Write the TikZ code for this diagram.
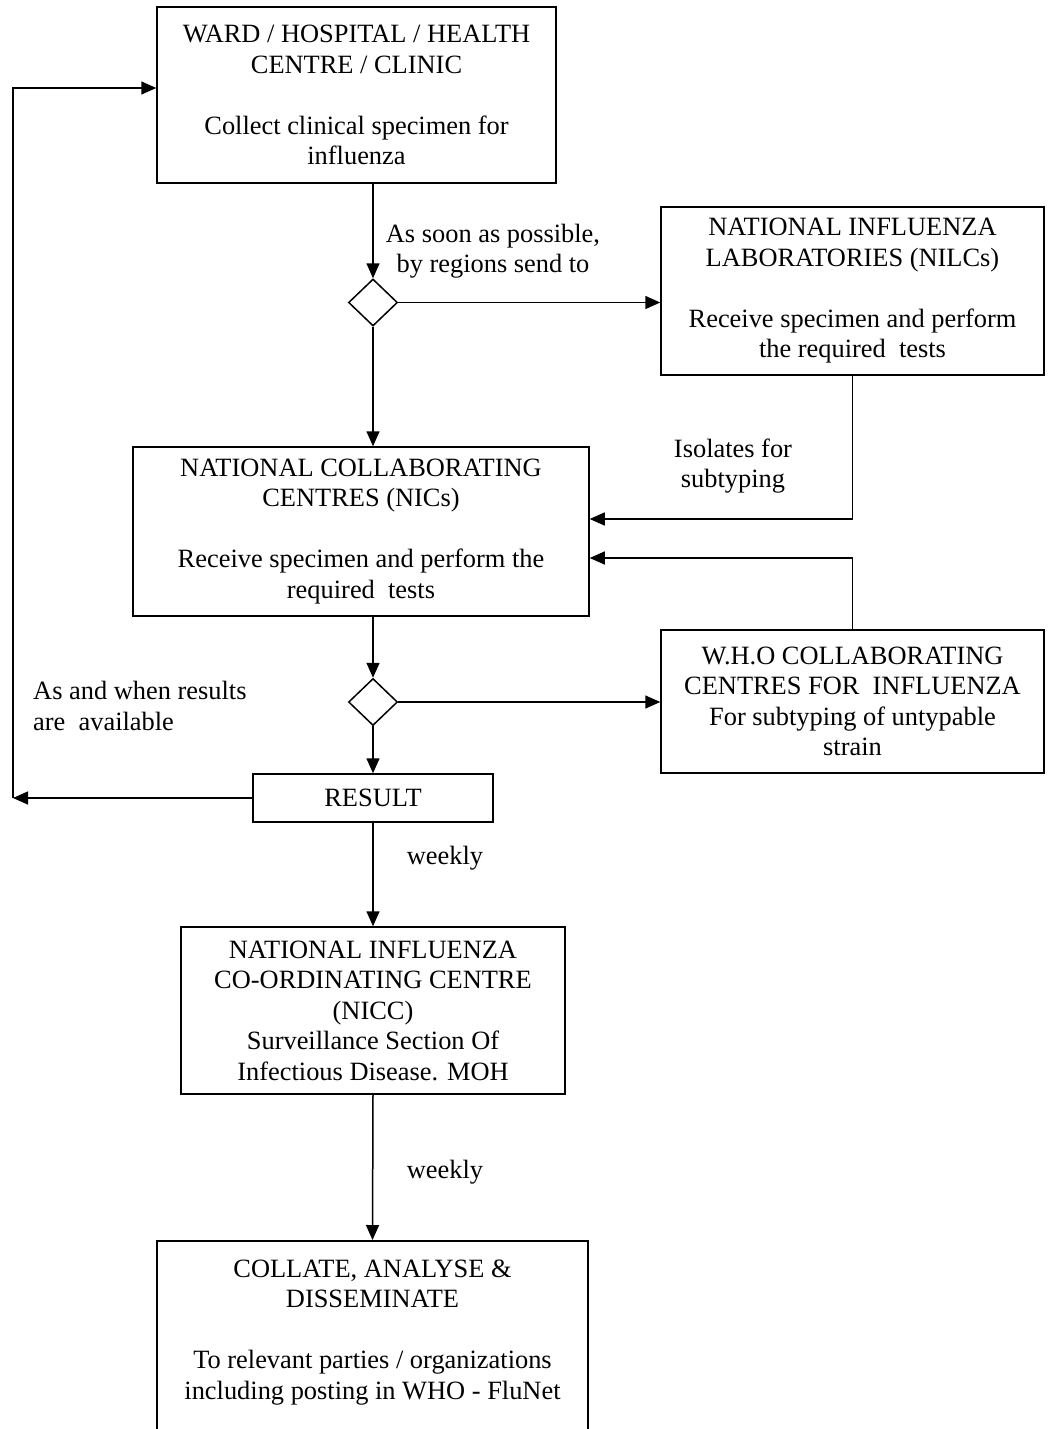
\documentclass[tikz,border=0pt]{standalone}
\usepackage{fontspec}
\setmainfont{Liberation Serif}
\usetikzlibrary{shapes.geometric,arrows.meta,calc}
\begin{document}
\begin{tikzpicture}[x=1pt,y=-1pt,
  every node/.style={font=\fontsize{26.4}{30.5}\selectfont},
  box/.style={draw, line width=1.5pt, align=center, inner sep=0pt},
  dia/.style={draw, diamond, line width=1.5pt, minimum width=49pt, minimum height=47pt, inner sep=0pt},
  arr/.style={line width=1.5pt, -{Triangle[length=15pt,width=13pt]}},
  lbl/.style={align=center, inner sep=0pt}]
\useasboundingbox (0,0) rectangle (1047,1429);

\node[box, minimum width=399pt, minimum height=176pt] (ward) at (356.5,95)
  {WARD / HOSPITAL / HEALTH\\ CENTRE / CLINIC\\[30.5pt] Collect clinical specimen for\\ influenza};
\node[dia] (d1) at (373,302.5) {};
\node[box, minimum width=383pt, minimum height=168pt] (nilc) at (852.5,291)
  {NATIONAL INFLUENZA\\ LABORATORIES (NILCs)\\[30.5pt] Receive specimen and perform\\ the required\ \ tests};
\node[box, minimum width=456pt, minimum height=169pt] (nic) at (361,531.5)
  {NATIONAL COLLABORATING\\ CENTRES (NICs)\\[30.5pt] Receive specimen and perform the\\ required\ \ tests};
\node[box, minimum width=383pt, minimum height=143pt] (who) at (852.5,701.5)
  {W.H.O COLLABORATING\\ CENTRES FOR\ \ INFLUENZA\\ For subtyping of untypable\\ strain};
\node[dia] (d2) at (373,702) {};
\node[box, minimum width=240pt, minimum height=48pt] (result) at (373,798) {RESULT};
\node[box, minimum width=384pt, minimum height=167pt] (nicc) at (373,1010.5)
  {NATIONAL INFLUENZA\\ CO-ORDINATING CENTRE\\ (NICC)\\ Surveillance Section Of\\ Infectious Disease. MOH};
\node[box, minimum width=431pt, minimum height=269pt, anchor=north] (collate) at (372.5,1240)
  {COLLATE, ANALYSE \&\\ DISSEMINATE\\[30.5pt] To relevant parties / organizations\\ including posting in WHO - FluNet\\[61pt] \mbox{}};

\node[lbl] (lsoon) at (493,251) {As soon as possible,\\ by regions send to};
\node[lbl] (liso) at (733,466) {Isolates for\\ subtyping};
\node[lbl, align=left, anchor=west] (lavail) at (33,706) {As and when results\\ are\ \ available};
\node[lbl] (lw1) at (445,858) {weekly};
\node[lbl] (lw2) at (445,1172) {weekly};

\coordinate (fbB) at (13,798);
\coordinate (fbT) at (13,88);

\draw[arr] (ward.south -| d1) -- (d1.north);
\draw[arr] (d1.east) -- (d1.east -| nilc.west);
\draw[arr] (d1.south) -- (d1.south |- nic.north);
\draw[arr] (nilc.south) |- ($(nic.east)+(0,-12.5)$);
\draw[arr] (who.north) |- ($(nic.east)+(0,26.5)$);
\draw[arr] (nic.south -| d2) -- (d2.north);
\draw[arr] (d2.east) -- (d2.east -| who.west);
\draw[arr] (d2.south) -- (result.north);
\draw[arr] (result.west) -- (fbB);
\draw[arr] (fbB) -- (fbT) -- (fbT -| ward.west);
\draw[arr] (result.south) -- (nicc.north);
\draw[arr] (nicc.south) -- (collate.north);
\end{tikzpicture}
\end{document}
